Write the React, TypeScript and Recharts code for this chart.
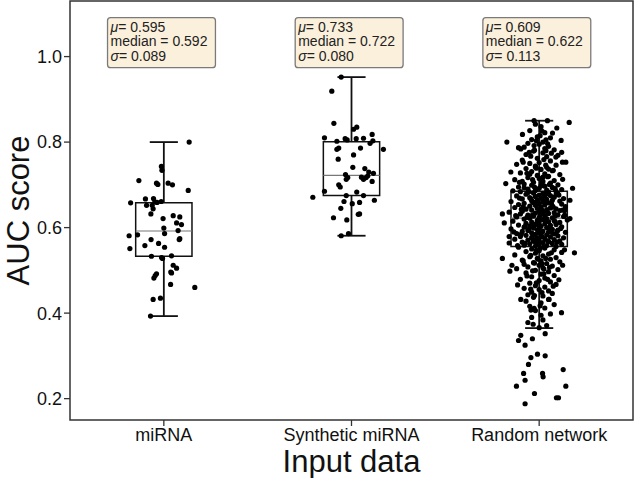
import React from 'react';
import {
  ScatterChart,
  Scatter,
  XAxis,
  YAxis,
  ReferenceArea,
  ReferenceLine,
} from 'recharts';

const CATEGORIES = ['miRNA', 'Synthetic miRNA', 'Random network'];
const Y_TICKS = [0.2, 0.4, 0.6, 0.8, 1.0];

// box plot stats per category
const Q1 = [0.533, 0.675, 0.556];
const MEDIAN = [0.592, 0.722, 0.622];
const Q3 = [0.658, 0.801, 0.685];
const WHISKER_LOW = [0.393, 0.581, 0.365];
const WHISKER_HIGH = [0.8, 0.952, 0.85];

// annotation text
const MEAN_TXT = ['0.595', '0.733', '0.609'];
const MEDIAN_TXT = ['0.592', '0.722', '0.622'];
const SD_TXT = ['0.089', '0.080', '0.113'];

// [jitter, auc]
const mirnaPoints = [
  [0.135, 0.8], [-0.013, 0.743], [-0.01, 0.734], [-0.133, 0.71], [-0.039, 0.704],
  [-0.032, 0.701], [0.023, 0.704], [0.046, 0.7], [0.13, 0.687], [-0.177, 0.658],
  [-0.098, 0.667], [-0.055, 0.668], [-0.092, 0.652], [-0.062, 0.652], [-0.048, 0.66],
  [-0.036, 0.659], [-0.014, 0.661], [-0.069, 0.632], [-0.057, 0.644], [-0.004, 0.621],
  [0.05, 0.628], [0.085, 0.625], [0.068, 0.611], [0.094, 0.607], [0.0, 0.599],
  [0.004, 0.586], [0.076, 0.593], [0.082, 0.572], [0.085, 0.574], [-0.185, 0.581],
  [-0.14, 0.583], [-0.068, 0.572], [-0.028, 0.563], [-0.101, 0.558], [-0.181, 0.551],
  [0.004, 0.554], [-0.066, 0.533], [0.041, 0.534], [-0.012, 0.53], [-0.007, 0.528],
  [0.05, 0.512], [0.068, 0.505], [0.041, 0.494], [0.037, 0.496], [-0.046, 0.488],
  [-0.039, 0.492], [-0.053, 0.482], [0.036, 0.467], [0.165, 0.46], [-0.057, 0.432],
  [-0.018, 0.435], [-0.071, 0.393],
];

const synthPoints = [
  [-0.055, 0.952], [-0.105, 0.919], [-0.094, 0.844], [0.011, 0.83], [0.028, 0.835],
  [-0.144, 0.81], [-0.078, 0.802], [-0.034, 0.808], [-0.023, 0.805], [0.025, 0.808],
  [0.064, 0.809], [0.11, 0.818], [0.099, 0.797], [0.114, 0.803], [0.17, 0.783],
  [-0.078, 0.783], [-0.068, 0.786], [0.048, 0.786], [0.011, 0.77], [-0.071, 0.76],
  [0.007, 0.741], [0.071, 0.738], [0.092, 0.73], [0.117, 0.727], [-0.032, 0.724],
  [-0.02, 0.717], [-0.028, 0.713], [0.053, 0.718], [0.064, 0.713], [0.078, 0.717],
  [0.087, 0.721], [0.11, 0.708], [-0.068, 0.7], [-0.06, 0.695], [-0.144, 0.685],
  [0.028, 0.683], [0.064, 0.675], [-0.206, 0.671], [-0.028, 0.675], [-0.04, 0.661],
  [0.043, 0.659], [0.122, 0.664], [0.004, 0.656], [-0.057, 0.645], [-0.025, 0.618],
  [-0.096, 0.623], [0.036, 0.631], [0.043, 0.632], [-0.055, 0.581], [-0.016, 0.586],
];

const randomPoints = [
  // sparse upper part
  [-0.027, 0.85], [0.044, 0.85], [0.16, 0.846], [0.094, 0.833], [0.071, 0.821],
  [-0.089, 0.818], [0.005, 0.815], [-0.172, 0.8], [0.036, 0.805], [0.117, 0.804],
  [-0.08, 0.788], [-0.027, 0.792], [-0.098, 0.784], [-0.053, 0.776], [0.036, 0.78],
  [0.089, 0.765], [0.124, 0.753], [0.142, 0.753], [-0.151, 0.73], [-0.178, 0.703],
  [0.178, 0.692], [0.164, 0.664], [-0.196, 0.632], [-0.186, 0.611], [0.136, 0.64],
  [0.136, 0.629], [0.164, 0.621], [-0.16, 0.579], [0.188, 0.541], [-0.196, 0.528],
  [-0.156, 0.498],
  [-0.02, 0.842], [0.01, 0.836], [-0.05, 0.827], [0.03, 0.822], [-0.01, 0.812],
  [0.06, 0.81], [-0.04, 0.806], [0.02, 0.8],
  [-0.06, 0.797], [0.0, 0.795], [0.05, 0.79], [-0.11, 0.787], [0.08, 0.782],
  [-0.03, 0.779], [0.02, 0.775], [-0.07, 0.771], [0.1, 0.769], [0.04, 0.766],
  [-0.01, 0.762], [-0.09, 0.758], [0.06, 0.756], [0.0, 0.752], [-0.05, 0.75],
  [0.12, 0.776], [0.03, 0.785],
  [-0.12, 0.748], [0.09, 0.746], [-0.02, 0.744], [0.04, 0.741], [-0.07, 0.738],
  [0.01, 0.736], [0.07, 0.733], [-0.04, 0.731], [-0.1, 0.728], [0.03, 0.726],
  [0.11, 0.724], [-0.01, 0.722], [0.05, 0.72], [-0.06, 0.717], [0.0, 0.715],
  [-0.13, 0.712], [0.08, 0.71], [0.02, 0.708], [-0.03, 0.706], [0.06, 0.704],
  [-0.08, 0.702], [0.1, 0.7], [-0.02, 0.742], [0.05, 0.737], [-0.05, 0.725],
  [0.02, 0.718], [-0.09, 0.708],
  [-0.04, 0.699], [0.03, 0.697], [-0.11, 0.695], [0.07, 0.694], [0.0, 0.692],
  [-0.06, 0.69], [0.12, 0.689], [0.04, 0.688], [-0.02, 0.687], [-0.14, 0.686],
  [0.09, 0.685], [0.01, 0.698], [-0.08, 0.693],
  [0.015, 0.705], [-0.035, 0.712], [0.045, 0.719], [-0.065, 0.727], [0.075, 0.734],
  [-0.015, 0.739], [0.035, 0.746], [-0.085, 0.753], [0.025, 0.759], [-0.045, 0.767],
  [0.065, 0.774], [-0.025, 0.781], [0.045, 0.796], [-0.015, 0.803], [0.015, 0.826],
  [0.035, 0.678], [-0.055, 0.684], [0.085, 0.691], [-0.025, 0.695], [0.055, 0.701],
  [-0.105, 0.706], [0.125, 0.713],
  // inside the box
  [-0.1, 0.684], [0.05, 0.683], [-0.03, 0.681], [0.02, 0.68], [0.1, 0.679],
  [-0.07, 0.678], [0.0, 0.676], [0.06, 0.675], [-0.12, 0.674], [-0.02, 0.673],
  [0.03, 0.672], [0.08, 0.671], [-0.05, 0.67], [0.01, 0.669], [0.13, 0.668],
  [-0.09, 0.667], [0.04, 0.666], [-0.01, 0.665], [0.07, 0.664], [-0.04, 0.663],
  [0.11, 0.662], [-0.15, 0.661], [0.02, 0.66], [-0.06, 0.682], [0.09, 0.677],
  [-0.03, 0.659], [0.05, 0.658], [-0.08, 0.657], [0.0, 0.656], [0.12, 0.655],
  [-0.11, 0.654], [0.03, 0.653], [-0.02, 0.652], [0.07, 0.651], [-0.05, 0.65],
  [0.14, 0.649], [0.01, 0.648], [-0.13, 0.647], [0.06, 0.646], [-0.01, 0.645],
  [0.09, 0.644], [-0.07, 0.643], [0.04, 0.642], [-0.04, 0.641], [0.11, 0.64],
  [0.0, 0.639], [-0.09, 0.638], [0.02, 0.637], [-0.16, 0.636], [0.08, 0.635],
  [-0.02, 0.634], [0.05, 0.633], [-0.1, 0.632], [0.01, 0.631], [0.1, 0.63],
  [-0.06, 0.629], [0.03, 0.628], [-0.03, 0.627], [0.13, 0.626], [-0.12, 0.625],
  [0.0, 0.624], [0.07, 0.623], [-0.05, 0.622], [0.04, 0.621], [-0.08, 0.62],
  [0.02, 0.619], [0.15, 0.618], [-0.01, 0.617], [0.08, 0.616], [-0.14, 0.615],
  [0.05, 0.614], [-0.04, 0.613], [0.11, 0.612], [0.0, 0.611], [-0.07, 0.61],
  [0.03, 0.609], [-0.02, 0.608], [0.09, 0.607], [-0.11, 0.606], [0.06, 0.605],
  [-0.05, 0.604], [0.01, 0.603], [0.12, 0.602], [-0.08, 0.601], [0.04, 0.6],
  [-0.03, 0.599], [0.0, 0.598], [-0.15, 0.597], [0.07, 0.596], [-0.01, 0.595],
  [0.1, 0.594], [-0.06, 0.593], [0.02, 0.592], [-0.09, 0.591], [0.05, 0.59],
  [0.14, 0.589], [-0.04, 0.588], [0.0, 0.587], [-0.12, 0.586], [0.08, 0.585],
  [-0.02, 0.584], [0.04, 0.583], [-0.07, 0.582], [0.1, 0.581], [0.01, 0.58],
  [-0.1, 0.579], [0.06, 0.578], [-0.04, 0.577], [0.13, 0.576], [-0.01, 0.575],
  [0.03, 0.574], [-0.13, 0.573], [0.08, 0.572], [-0.06, 0.571], [0.0, 0.57],
  [0.11, 0.569], [-0.03, 0.568], [0.05, 0.567], [-0.09, 0.566], [0.02, 0.565],
  [-0.16, 0.564], [0.07, 0.563], [-0.05, 0.562], [0.12, 0.561], [0.0, 0.56],
  [-0.08, 0.559], [0.04, 0.558], [-0.02, 0.557], [0.09, 0.556],
  [-0.015, 0.655], [0.025, 0.662], [-0.045, 0.668], [0.065, 0.657], [-0.085, 0.649],
  [0.015, 0.641], [0.045, 0.636], [-0.035, 0.63], [0.085, 0.627], [-0.065, 0.624],
  [0.005, 0.619], [0.035, 0.613], [-0.025, 0.606], [0.055, 0.6], [-0.055, 0.596],
  [0.095, 0.591], [-0.095, 0.585], [0.015, 0.579], [-0.035, 0.574], [0.045, 0.569],
  [-0.075, 0.563], [0.105, 0.676], [-0.105, 0.669], [0.125, 0.641], [-0.125, 0.628],
  [0.115, 0.598], [-0.135, 0.59], [0.095, 0.566], [-0.115, 0.558], [-0.005, 0.664],
  [0.005, 0.631], [-0.005, 0.607], [0.015, 0.589], [-0.015, 0.566], [0.065, 0.589],
  [-0.075, 0.603], [0.085, 0.614], [-0.095, 0.643], [0.075, 0.648], [-0.035, 0.66],
  // below the box
  [-0.11, 0.554], [0.03, 0.552], [-0.04, 0.55], [0.08, 0.548], [0.0, 0.546],
  [-0.07, 0.544], [0.12, 0.542], [-0.02, 0.54], [0.05, 0.538], [-0.13, 0.536],
  [0.02, 0.534], [-0.05, 0.532], [0.09, 0.53], [-0.01, 0.528], [0.06, 0.526],
  [-0.09, 0.524], [0.01, 0.522], [0.11, 0.52], [-0.03, 0.518], [0.04, 0.516],
  [-0.08, 0.514], [0.0, 0.512], [0.07, 0.51], [-0.06, 0.508], [0.02, 0.506],
  [-0.12, 0.504], [0.1, 0.502], [-0.02, 0.5], [0.05, 0.497], [-0.07, 0.494],
  [0.01, 0.491], [0.08, 0.488], [-0.04, 0.485], [0.03, 0.482], [-0.1, 0.479],
  [0.0, 0.476], [0.06, 0.473], [-0.05, 0.47], [0.09, 0.467], [-0.02, 0.464],
  [0.03, 0.461], [-0.08, 0.458], [0.0, 0.455], [0.05, 0.452], [-0.04, 0.449],
  [0.07, 0.446], [-0.06, 0.443], [0.02, 0.44],
  [0.025, 0.555], [-0.015, 0.547], [0.065, 0.541], [-0.045, 0.535], [0.035, 0.528],
  [-0.085, 0.522], [0.015, 0.515], [0.055, 0.507], [-0.035, 0.499], [0.025, 0.492],
  [-0.065, 0.487], [0.045, 0.479], [-0.015, 0.471], [0.075, 0.463], [-0.045, 0.456],
  [0.015, 0.448], [-0.025, 0.441], [0.135, 0.548], [-0.145, 0.512], [0.125, 0.512],
  [0.105, 0.478], [-0.115, 0.466], [0.005, 0.551], [-0.005, 0.526], [0.025, 0.503],
  [-0.025, 0.517],
  [-0.03, 0.437], [0.05, 0.432], [-0.07, 0.428], [0.01, 0.424], [0.08, 0.42],
  [-0.05, 0.416], [0.03, 0.412], [-0.02, 0.406], [0.06, 0.398], [-0.04, 0.39],
  [0.02, 0.384], [-0.06, 0.378], [0.04, 0.371], [0.0, 0.366],
  // sparse lower tail
  [0.119, 0.401], [0.053, 0.432], [-0.044, 0.407], [-0.027, 0.411], [-0.098, 0.432],
  [0.005, 0.417], [-0.032, 0.374], [0.01, 0.395],
  [-0.098, 0.348], [-0.11, 0.336], [-0.075, 0.325], [-0.036, 0.34], [0.032, 0.352],
  [-0.009, 0.304], [0.032, 0.3], [-0.044, 0.296], [-0.057, 0.28], [0.128, 0.268],
  [-0.083, 0.259], [0.018, 0.259], [0.021, 0.251], [-0.075, 0.243], [-0.121, 0.229],
  [0.142, 0.229], [-0.025, 0.212], [0.092, 0.202], [0.103, 0.202], [-0.075, 0.188],
];

const GROUPS = [mirnaPoints, synthPoints, randomPoints];

const BOX_HALF = 0.15;
const CAP_HALF = 0.075;
const Y_DOMAIN = [0.15, 1.13];
const FONT = '"Liberation Sans", Arial, Helvetica, sans-serif';

const Dot = (props: any) => (
  <circle cx={props.cx} cy={props.cy} r={2.6} fill="#000" />
);

const StatBox = (i: number) => (props: any) => {
  const { x, y, width, height } = props;
  return (
    <g>
      <rect x={x} y={y} width={width} height={height} rx={3} ry={3}
        fill="#fbf0dc" stroke="#7a7a7a" strokeWidth={1.3} />
      <text x={x + 3} y={y + 14} fontSize={14} fill="#222" fontFamily={FONT}>
        <tspan fontStyle="italic">μ</tspan>= {MEAN_TXT[i]}
      </text>
      <text x={x + 3} y={y + 28.5} fontSize={14} fill="#222" fontFamily={FONT}>
        median = {MEDIAN_TXT[i]}
      </text>
      <text x={x + 3} y={y + 43} fontSize={14} fill="#222" fontFamily={FONT}>
        <tspan fontStyle="italic">σ</tspan>= {SD_TXT[i]}
      </text>
    </g>
  );
};

const YTitle = (props: any) => {
  const vb = props.viewBox;
  const cx = vb.x + 18;
  const cy = vb.y + vb.height / 2;
  return (
    <text x={cx} y={cy} transform={`rotate(-90, ${cx}, ${cy})`} textAnchor="middle"
      dominantBaseline="central" fontSize={31} fill="#111" fontFamily={FONT}>
      AUC score
    </text>
  );
};

const XTitle = (props: any) => {
  const vb = props.viewBox;
  return (
    <text x={vb.x + vb.width / 2} y={vb.y + 41} textAnchor="middle"
      dominantBaseline="central" fontSize={31} fill="#111" fontFamily={FONT}>
      Input data
    </text>
  );
};

export default function App() {
  const scatterData = GROUPS.map((pts, gi) =>
    pts.map(([j, v]) => ({ x: gi + j, y: v }))
  );

  return (
    <div style={{ position: 'absolute', left: 0, top: 0, width: 634, height: 478, background: '#fff', fontFamily: FONT }}>
      <ScatterChart width={634} height={478} margin={{ top: 1, right: 1, bottom: 0, left: 0 }}>
        <XAxis
          type="number"
          dataKey="x"
          domain={[-0.5, 2.5]}
          ticks={[0, 1, 2]}
          allowDataOverflow
          tickFormatter={(v: number) => CATEGORIES[v]}
          tick={{ fontSize: 18, fill: '#111' }}
          tickSize={6}
          tickLine={{ stroke: '#333', strokeWidth: 1.3 }}
          axisLine={false}
          height={58}
          interval={0}
          label={XTitle}
        />
        <YAxis
          type="number"
          dataKey="y"
          domain={Y_DOMAIN}
          ticks={Y_TICKS}
          allowDataOverflow
          tickFormatter={(v: number) => v.toFixed(1)}
          tick={{ fontSize: 18, fill: '#111' }}
          tickSize={6}
          tickLine={{ stroke: '#333', strokeWidth: 1.3 }}
          axisLine={false}
          width={70}
          label={YTitle}
        />

        {CATEGORIES.map((_, i) => (
          <ReferenceArea key={`box${i}`} x1={i - BOX_HALF} x2={i + BOX_HALF} y1={Q1[i]} y2={Q3[i]}
            fill="none" fillOpacity={0} stroke="#111" strokeWidth={1.5} />
        ))}
        {CATEGORIES.map((_, i) => (
          <ReferenceLine key={`med${i}`} segment={[{ x: i - BOX_HALF, y: MEDIAN[i] }, { x: i + BOX_HALF, y: MEDIAN[i] }]}
            stroke="#777" strokeWidth={1.2} />
        ))}
        {CATEGORIES.map((_, i) => (
          <ReferenceLine key={`wl${i}`} segment={[{ x: i, y: WHISKER_LOW[i] }, { x: i, y: Q1[i] }]}
            stroke="#111" strokeWidth={1.8} />
        ))}
        {CATEGORIES.map((_, i) => (
          <ReferenceLine key={`wh${i}`} segment={[{ x: i, y: Q3[i] }, { x: i, y: WHISKER_HIGH[i] }]}
            stroke="#111" strokeWidth={1.8} />
        ))}
        {CATEGORIES.map((_, i) => (
          <ReferenceLine key={`cl${i}`} segment={[{ x: i - CAP_HALF, y: WHISKER_LOW[i] }, { x: i + CAP_HALF, y: WHISKER_LOW[i] }]}
            stroke="#111" strokeWidth={1.8} />
        ))}
        {CATEGORIES.map((_, i) => (
          <ReferenceLine key={`ch${i}`} segment={[{ x: i - CAP_HALF, y: WHISKER_HIGH[i] }, { x: i + CAP_HALF, y: WHISKER_HIGH[i] }]}
            stroke="#111" strokeWidth={1.8} />
        ))}

        {scatterData.map((d, i) => (
          <Scatter key={`pts${i}`} data={d} shape={Dot} isAnimationActive={false} />
        ))}

        {CATEGORIES.map((_, i) => (
          <ReferenceArea key={`stat${i}`} x1={i - 0.3} x2={i + 0.275} y1={0.974} y2={1.091}
            shape={StatBox(i)} />
        ))}

        <ReferenceArea x1={-0.5} x2={2.5} y1={Y_DOMAIN[0]} y2={Y_DOMAIN[1]}
          fill="none" fillOpacity={0} stroke="#333" strokeWidth={1.5} />
      </ScatterChart>
    </div>
  );
}
